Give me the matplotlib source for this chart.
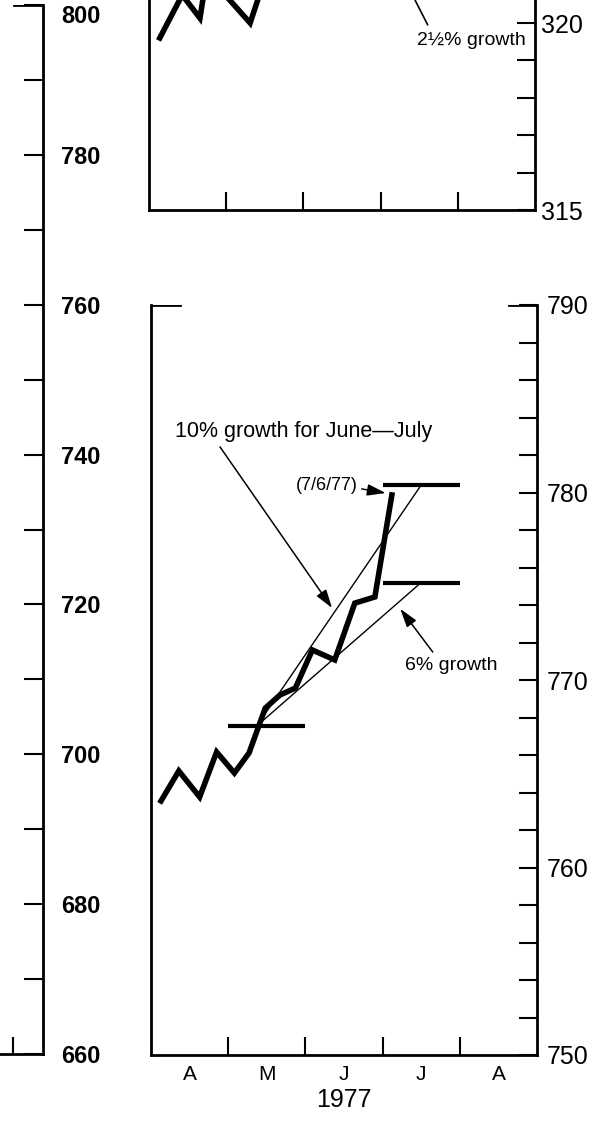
import matplotlib.pyplot as plt
import numpy as np

plt.rcParams['font.family'] = ['Liberation Sans', 'DejaVu Sans']

W, H = 601, 1121

# x in months from the start of April 1977 (weekly readings)
low_x = [0.13, 0.36, 0.63, 0.85, 1.08, 1.27, 1.48, 1.67, 1.87, 2.09, 2.38, 2.64, 2.90, 3.12]
low_y = [763.55, 765.15, 763.76, 766.16, 765.04, 766.11, 768.5, 769.2, 769.57,
         771.6, 771.07, 774.1, 774.43, 779.87]

up_x = [0.14, 0.43, 0.66, 0.75, 1.31, 1.55]
up_y = [319.60, 320.75, 320.13, 321.3, 320.0, 321.5]

# growth cone for the lower panel
base_val = 767.55
base_span = (1.0, 2.0)
target_span = (3.0, 4.0)
cone_start = 1.37
cone_end = 3.5
hi_val = 780.4   # 10% growth
lo_val = 775.2   # 6% growth

months = ['A', 'M', 'J', 'J', 'A']
left_ticks = list(range(660, 801, 20))
left_minor = list(range(670, 800, 20))


def rect(l, t, r, b):
    return [l / W, 1 - b / H, (r - l) / W, (b - t) / H]


fig = plt.figure(figsize=(W / 100, H / 100), dpi=100)
spine_w = 2.0
tick_len = 13
tick_w = 1.5

# ---- partial panel on the far left (only its right scale shows)
ax_l = fig.add_axes(rect(43 - 3 * 77.2, 5, 43, 1054))
ax_l.set_xlim(-3, 0)
ax_l.set_ylim(660, 800)
for s in ['left', 'top']:
    ax_l.spines[s].set_visible(False)
for s in ['right', 'bottom']:
    ax_l.spines[s].set_linewidth(spine_w)
ax_l.yaxis.tick_right()
ax_l.set_yticks(left_ticks)
ax_l.set_yticks(left_minor, minor=True)
ax_l.tick_params(axis='y', which='both', direction='in', length=14, width=tick_w,
                 pad=13, labelsize=17)
for lab in ax_l.get_yticklabels():
    lab.set_fontweight('bold')
ax_l.get_yticklabels()[-1].set_va('top')
ax_l.set_xticks([-0.39], labels=[''])
ax_l.tick_params(axis='x', direction='in', length=12, width=tick_w)
ax_l.axhline(800, xmin=1 - 29 / (3 * 77.2), xmax=1, color='black', lw=spine_w)

# ---- upper middle panel (cropped at the top)
ax_t = fig.add_axes(rect(149, 0, 535, 210))
ax_t.set_xlim(0, 5)
ax_t.set_ylim(315, 320.615)
ax_t.spines['top'].set_visible(False)
for s in ['left', 'right', 'bottom']:
    ax_t.spines[s].set_linewidth(spine_w)
ax_t.plot(up_x, up_y, color='black', lw=4, solid_joinstyle='miter')
ax_t.yaxis.tick_right()
ax_t.set_yticks([315, 320])
ax_t.set_yticks(np.arange(315, 321, 1), minor=True)
ax_t.tick_params(axis='y', which='both', direction='in', length=tick_len, width=tick_w,
                 pad=4, labelsize=18)
ax_t.set_xticks([1, 2, 3, 4], labels=[''] * 4)
ax_t.tick_params(axis='x', direction='in', length=tick_len, width=tick_w)
ax_t.text(3.47, 319.52, '2\u00bd% growth', ha='left', va='center', fontsize=14)
ax_t.annotate('', xy=(3.38, 320.88), xytext=(3.61, 319.95),
              arrowprops=dict(arrowstyle='-', lw=1.2, shrinkA=0, shrinkB=0),
              annotation_clip=False)

# ---- lower middle panel
ax_b = fig.add_axes(rect(151, 305, 537, 1055))
ax_b.set_xlim(0, 5)
ax_b.set_ylim(750, 790)
ax_b.spines['top'].set_visible(False)
for s in ['left', 'right', 'bottom']:
    ax_b.spines[s].set_linewidth(spine_w)
ax_b.axhline(790, xmin=0, xmax=29 / 386, color='black', lw=spine_w)
ax_b.axhline(790, xmin=1 - 28 / 386, xmax=1, color='black', lw=spine_w)

ax_b.hlines(base_val, *base_span, color='black', lw=3)
ax_b.hlines([hi_val, lo_val], *target_span, color='black', lw=3)
ax_b.plot([cone_start, cone_end], [base_val, hi_val], color='black', lw=1)
ax_b.plot([cone_start, cone_end], [base_val, lo_val], color='black', lw=1)
ax_b.plot(low_x, low_y, color='black', lw=4, solid_joinstyle='miter')

ax_b.yaxis.tick_right()
ax_b.set_yticks(range(750, 791, 10))
ax_b.set_yticks(range(750, 791, 2), minor=True)
ax_b.tick_params(axis='y', which='both', direction='in', length=tick_len, width=tick_w,
                 pad=7, labelsize=18)
ax_b.set_xticks([1, 2, 3, 4], labels=[''] * 4)
ax_b.set_xticks([0.5, 1.5, 2.5, 3.5, 4.5], labels=months, minor=True)
ax_b.tick_params(axis='x', which='major', direction='in', length=tick_len, width=tick_w)
ax_b.tick_params(axis='x', which='minor', length=0, pad=7, labelsize=15)
ax_b.set_xlabel('1977', fontsize=18, labelpad=3)

head = dict(arrowstyle='-|>,head_length=0.7,head_width=0.22', lw=1.1,
            color='black', shrinkA=0, shrinkB=0, mutation_scale=16)
ax_b.text(0.31, 783.23, '10% growth for June\u2014July', ha='left', va='center',
          fontsize=15.5)
ax_b.annotate('', xy=(2.345, 773.84), xytext=(0.894, 782.43), arrowprops=head)
ax_b.text(2.68, 780.35, '(7/6/77)', ha='right', va='center', fontsize=13)
ax_b.annotate('', xy=(3.04, 779.97), xytext=(2.73, 780.19), arrowprops=head)
ax_b.text(3.29, 770.8, '6% growth', ha='left', va='center', fontsize=14)
ax_b.annotate('', xy=(3.23, 773.79), xytext=(3.65, 771.49), arrowprops=head)

fig.savefig('out.png', dpi=100)
